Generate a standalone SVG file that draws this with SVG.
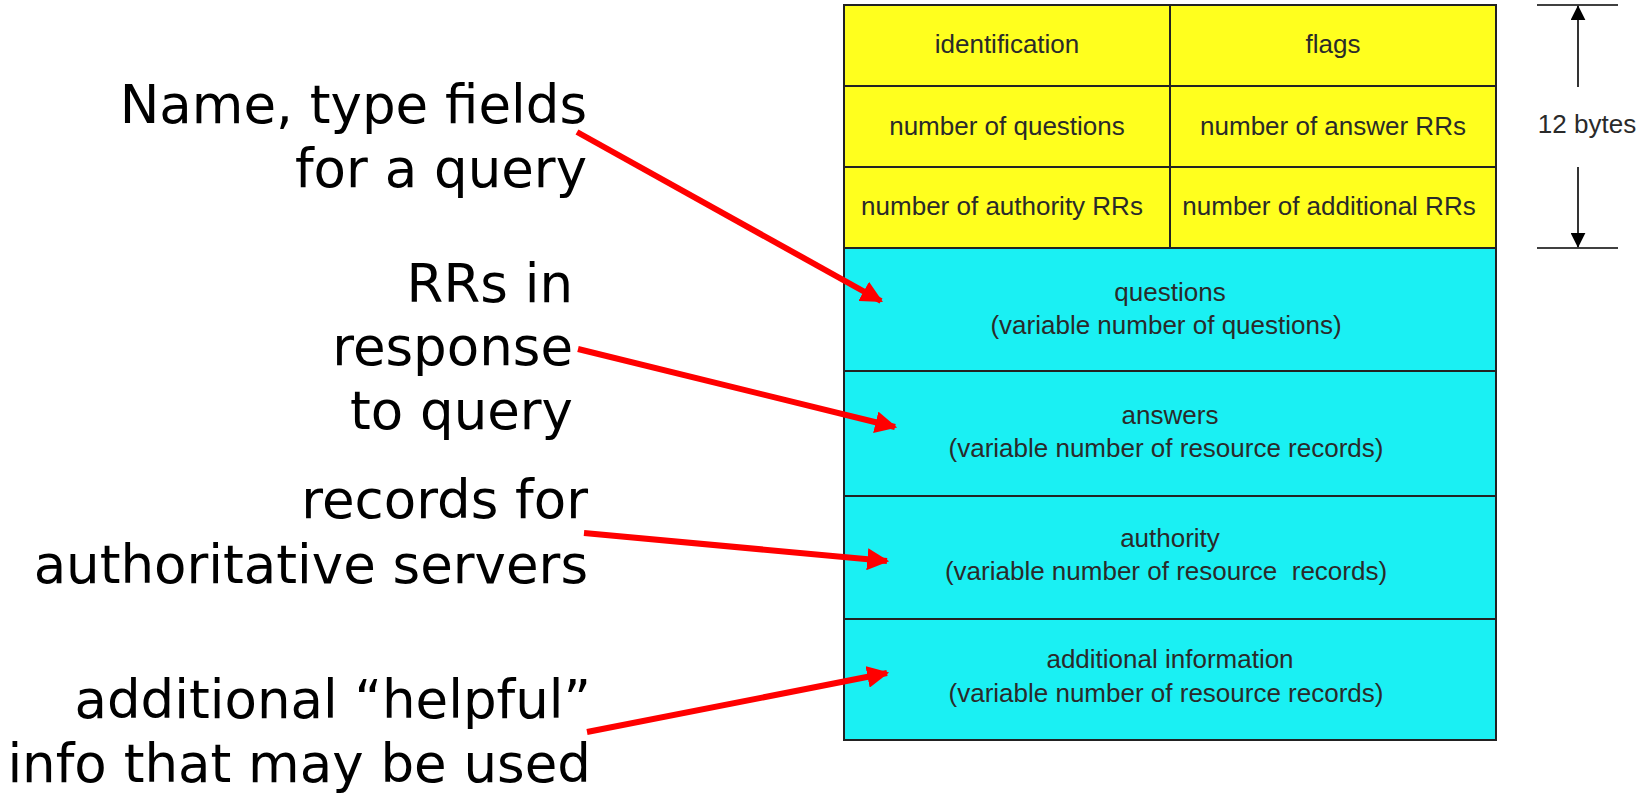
<svg xmlns="http://www.w3.org/2000/svg" width="1650" height="793" viewBox="0 0 1650 793">
<defs>
<style>
.hdr{fill:#FFFF1E;stroke:#222;stroke-width:2}
.body{fill:#1AF0F3;stroke:#222;stroke-width:2}
.t{font-family:"Liberation Sans",Arial,sans-serif;font-size:26px;fill:#2a2a2a;text-anchor:middle}
.lbl{font-family:"DejaVu Sans",Verdana,sans-serif;font-size:53px;fill:#000;text-anchor:end}
.conn{stroke:#FF0000;stroke-width:6;fill:none}
.dim{stroke:#000;stroke-width:1.6;fill:none}
</style>
<marker id="red" viewBox="0 0 10 10" refX="9" refY="5" markerWidth="22" markerHeight="22" markerUnits="userSpaceOnUse" orient="auto">
<path d="M0,0 L10,5 L0,10 Z" fill="#FF0000"/>
</marker>
<marker id="blk" viewBox="0 0 10 10" refX="9.5" refY="5" markerWidth="15" markerHeight="15" markerUnits="userSpaceOnUse" orient="auto">
<path d="M0,0 L10,5 L0,10 Z" fill="#000"/>
</marker>
</defs>
<rect width="1650" height="793" fill="#fff"/>

<g id="header">
<rect class="hdr" x="844" y="5" width="326" height="81"/>
<rect class="hdr" x="1170" y="5" width="326" height="81"/>
<rect class="hdr" x="844" y="86" width="326" height="81"/>
<rect class="hdr" x="1170" y="86" width="326" height="81"/>
<rect class="hdr" x="844" y="167" width="326" height="81"/>
<rect class="hdr" x="1170" y="167" width="326" height="81"/>
<text class="t" x="1007" y="53">identification</text>
<text class="t" x="1333" y="53">flags</text>
<text class="t" x="1007" y="135">number of questions</text>
<text class="t" x="1333" y="135">number of answer RRs</text>
<text class="t" x="1002" y="215">number of authority RRs</text>
<text class="t" x="1329" y="215">number of additional RRs</text>
</g>

<g id="questions">
<rect class="body" x="844" y="248" width="652" height="123"/>
<text class="t" x="1170" y="301">questions</text>
<text class="t" x="1166" y="334">(variable number of questions)</text>
</g>
<g id="answers">
<rect class="body" x="844" y="371" width="652" height="125"/>
<text class="t" x="1170" y="424">answers</text>
<text class="t" x="1166" y="457">(variable number of resource records)</text>
</g>
<g id="authority">
<rect class="body" x="844" y="496" width="652" height="123"/>
<text class="t" x="1170" y="547">authority</text>
<text class="t" x="1166" y="580" xml:space="preserve">(variable number of resource  records)</text>
</g>
<g id="additional">
<rect class="body" x="844" y="619" width="652" height="121"/>
<text class="t" x="1170" y="668">additional information</text>
<text class="t" x="1166" y="702">(variable number of resource records)</text>
</g>

<g id="dimension">
<line class="dim" x1="1537" y1="5" x2="1618" y2="5"/>
<line class="dim" x1="1537" y1="248" x2="1618" y2="248"/>
<line class="dim" x1="1578" y1="87" x2="1578" y2="6" marker-end="url(#blk)"/>
<line class="dim" x1="1578" y1="167" x2="1578" y2="247" marker-end="url(#blk)"/>
<text class="t" x="1587" y="133">12 bytes</text>
</g>

<g id="label-query">
<text class="lbl" x="587" y="123">Name, type fields</text>
<text class="lbl" x="587" y="187">for a query</text>
</g>
<g id="label-response">
<text class="lbl" x="573" y="302">RRs in</text>
<text class="lbl" x="573" y="365">response</text>
<text class="lbl" x="573" y="429">to query</text>
</g>
<g id="label-authoritative">
<text class="lbl" x="588" y="518">records for</text>
<text class="lbl" x="588" y="583">authoritative servers</text>
</g>
<g id="label-additional">
<text class="lbl" x="591" y="718">additional “helpful”</text>
<text class="lbl" x="591" y="782">info that may be used</text>
</g>

<g id="connectors">
<line class="conn" x1="577" y1="132" x2="881" y2="301" marker-end="url(#red)"/>
<line class="conn" x1="578" y1="349" x2="895" y2="427" marker-end="url(#red)"/>
<line class="conn" x1="584" y1="533" x2="887" y2="561" marker-end="url(#red)"/>
<line class="conn" x1="587" y1="732" x2="887" y2="673" marker-end="url(#red)"/>
</g>
</svg>
